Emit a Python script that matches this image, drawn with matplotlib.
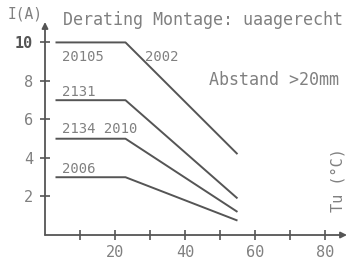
import matplotlib
matplotlib.use("Agg")
import matplotlib.pyplot as plt

# Derating-Kurven: Temperatur Tu (°C) gegen Strom I (A)
temps = [3, 23, 55]
i_20105 = [10, 10, 4.2]
i_2131 = [7, 7, 1.9]
i_2134 = [5, 5, 1.2]
i_2006 = [3, 3, 0.75]

x_ticks = [10, 20, 30, 40, 50, 60, 70, 80]
x_labels = ["", "20", "", "40", "", "60", "", "80"]
y_ticks = [2, 4, 6, 8, 10]
y_labels = ["2", "4", "6", "8", "10"]

txt = "#808080"
line_c = "#555555"
mono = "DejaVu Sans Mono"

fig = plt.figure(figsize=(3.58, 2.70), dpi=100)
ax = fig.add_axes([0.1257, 0.1296, 0.8436, 0.7889])
ax.set_xlim(0, 86.3)
ax.set_ylim(0, 11.06)

for s in ax.spines.values():
    s.set_visible(False)

# Achsen mit Pfeilen
ax.annotate("", xy=(86.3, 0), xytext=(0, 0),
            arrowprops=dict(arrowstyle="-|>", color=line_c, lw=1.3,
                            mutation_scale=9, shrinkA=0, shrinkB=0),
            annotation_clip=False)
ax.annotate("", xy=(0, 11.06), xytext=(0, 0),
            arrowprops=dict(arrowstyle="-|>", color=line_c, lw=1.3,
                            mutation_scale=9, shrinkA=0, shrinkB=0),
            annotation_clip=False)

for curve in (i_20105, i_2131, i_2134, i_2006):
    ax.plot(temps, curve, color=line_c, lw=1.4, solid_capstyle="butt")

ax.set_xticks(x_ticks)
ax.set_xticklabels(x_labels)
ax.set_yticks(y_ticks)
ax.set_yticklabels(y_labels)
ax.tick_params(direction="inout", length=7, width=1.2, color=line_c,
               labelcolor=txt, labelsize=11)
ax.tick_params(axis="x", pad=4)
ax.tick_params(axis="y", pad=5)
for lab in ax.get_xticklabels() + ax.get_yticklabels():
    lab.set_family(mono)
ax.get_yticklabels()[-1].set_fontweight("bold")
ax.get_yticklabels()[-1].set_color("#555555")

ax.text(5.1, 11.17, "Derating Montage: uaagerecht", family=mono, fontsize=12,
        color=txt, va="center", ha="left", clip_on=False)
ax.text(47, 8.05, "Abstand >20mm", family=mono, fontsize=12, color=txt,
        va="center", ha="left")
ax.text(-10.8, 11.5, "I(A)", family=mono, fontsize=10.5, color=txt,
        va="center", ha="left", clip_on=False)
ax.text(83.7, 2.86, "Tu (°C)", family=mono, fontsize=11, color=txt,
        va="center", ha="center", rotation=90, clip_on=False)

ax.text(4.9, 9.25, "20105", family=mono, fontsize=10, color=txt, va="center")
ax.text(28.6, 9.25, "2002", family=mono, fontsize=10, color=txt, va="center")
ax.text(4.9, 7.43, "2131", family=mono, fontsize=10, color=txt, va="center")
ax.text(4.9, 5.5, "2134 2010", family=mono, fontsize=10, color=txt, va="center")
ax.text(4.9, 3.43, "2006", family=mono, fontsize=10, color=txt, va="center")

fig.savefig("out.png", dpi=100)
